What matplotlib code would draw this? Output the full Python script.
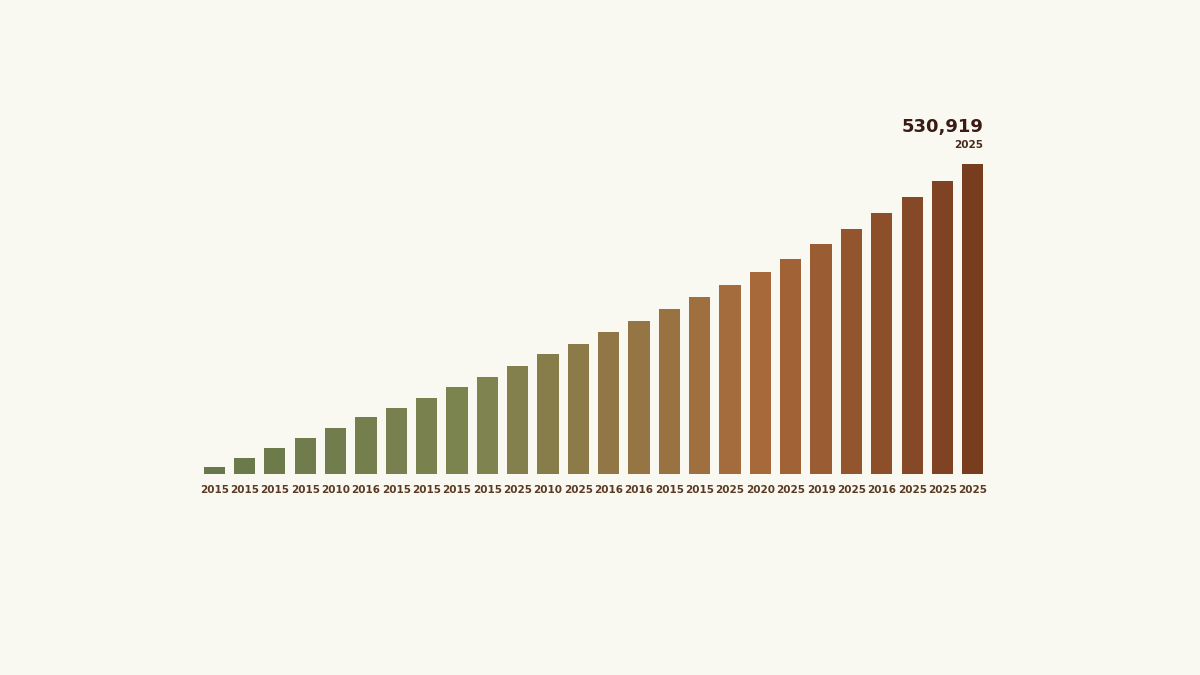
import matplotlib.pyplot as plt
import numpy as np
from matplotlib.colors import LinearSegmentedColormap

years = ["2015", "2015", "2015", "2015", "2010", "2016", "2015", "2015", "2015", "2015",
         "2025", "2010", "2025", "2016", "2016", "2015", "2015", "2025", "2020", "2025",
         "2019", "2025", "2016", "2025", "2025", "2025"]
px = [7, 16, 26, 36, 46, 57, 66, 76, 87, 97, 108, 120, 130, 142, 153, 165, 177, 189,
      202, 215, 230, 245, 261, 277, 293, 310]
values = [round(p * 530919 / 310) for p in px]
values[-1] = 530919

cmap = LinearSegmentedColormap.from_list(
    "earth", [(0, "#69784a"), (0.35, "#7d8450"), (0.72, "#a8693a"), (1, "#783c1f")])
n = len(values)
colors = [cmap(i / (n - 1)) for i in range(n)]

fig = plt.figure(figsize=(12, 6.75), dpi=100, facecolor="#f9f8f1")
ax = fig.add_axes([199 / 1200, 1 - 474 / 675, 789 / 1200, 330 / 675])
ax.set_facecolor("#f9f8f1")
x = np.arange(n)
ax.bar(x, values, width=0.7, color=colors)
ax.set_xlim(-0.5, n - 0.5)
ax.set_ylim(0, 530919 * 330 / 310)
ax.set_xticks(x)
ax.set_xticklabels(years, fontsize=7.5, color="#5a3a22", fontweight="bold")
ax.tick_params(axis="x", length=0, pad=8)
ax.set_yticks([])
for s in ax.spines.values():
    s.set_visible(False)

ax.text(x[-1] + 0.35, values[-1] * 1.045, "2025", ha="right", va="bottom",
        fontsize=7.5, fontweight="bold", color="#4a2a1a")
ax.text(x[-1] + 0.35, values[-1] * 1.09, f"{values[-1]:,}", ha="right", va="bottom",
        fontsize=13, fontweight="bold", color="#3a1a14")

fig.savefig("out.png", dpi=100, facecolor=fig.get_facecolor())
